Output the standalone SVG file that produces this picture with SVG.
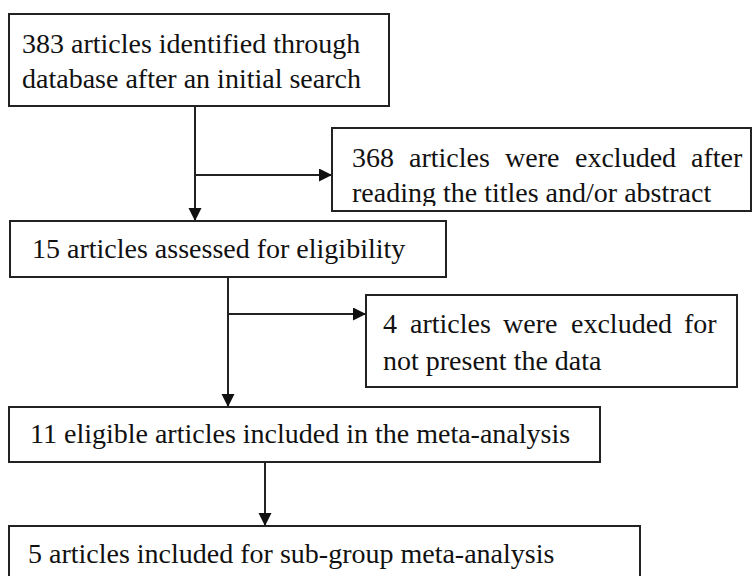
<svg xmlns="http://www.w3.org/2000/svg" width="754" height="576" viewBox="0 0 754 576">
<style>
.box{fill:#fff;stroke:#222;stroke-width:2}
.t{font-family:"Liberation Serif","Times New Roman",serif;font-size:28px;fill:#111}
.c{stroke:#222;stroke-width:2;fill:none}
</style>
<defs>
<marker id="ah" markerUnits="userSpaceOnUse" markerWidth="14" markerHeight="14" refX="13" refY="6.5" orient="auto">
<path d="M0,0 L13,6.5 L0,13 z" fill="#111"/>
</marker>
<clipPath id="clip2"><rect x="332" y="128" width="420" height="78"/></clipPath>
</defs>
<rect width="754" height="576" fill="#fff"/>
<g id="connectors">
<line class="c" x1="195" y1="106" x2="195" y2="221" marker-end="url(#ah)"/>
<line class="c" x1="195" y1="175" x2="332" y2="175" marker-end="url(#ah)"/>
<line class="c" x1="228" y1="277" x2="228" y2="407" marker-end="url(#ah)"/>
<line class="c" x1="228" y1="314" x2="366" y2="314" marker-end="url(#ah)"/>
<line class="c" x1="265" y1="462" x2="265" y2="526" marker-end="url(#ah)"/>
</g>
<g id="n1">
<rect class="box" x="9" y="14" width="380" height="92"/>
<text class="t" x="22" y="53">383 articles identified through</text>
<text class="t" x="22" y="88">database after an initial search</text>
</g>
<g id="n2">
<rect class="box" x="332" y="128" width="419" height="83"/>
<text class="t" y="167"><tspan x="352">368</tspan><tspan x="409">articles</tspan><tspan x="505">were</tspan><tspan x="575">excluded</tspan><tspan x="691">after</tspan></text>
<text class="t" x="352" y="202" clip-path="url(#clip2)">reading the titles and/or abstract</text>
</g>
<g id="n3">
<rect class="box" x="10" y="221" width="436" height="56"/>
<text class="t" x="32" y="258">15 articles assessed for eligibility</text>
</g>
<g id="n4">
<rect class="box" x="366" y="295" width="371" height="92"/>
<text class="t" y="333"><tspan x="383">4</tspan><tspan x="410">articles</tspan><tspan x="503">were</tspan><tspan x="571">excluded</tspan><tspan x="684">for</tspan></text>
<text class="t" x="383" y="370">not present the data</text>
</g>
<g id="n5">
<rect class="box" x="9" y="407" width="591" height="55"/>
<text class="t" x="30" y="443">11 eligible articles included in the meta-analysis</text>
</g>
<g id="n6">
<rect class="box" x="9" y="526" width="631" height="60"/>
<text class="t" x="28" y="563">5 articles included for sub-group meta-analysis</text>
</g>
</svg>
